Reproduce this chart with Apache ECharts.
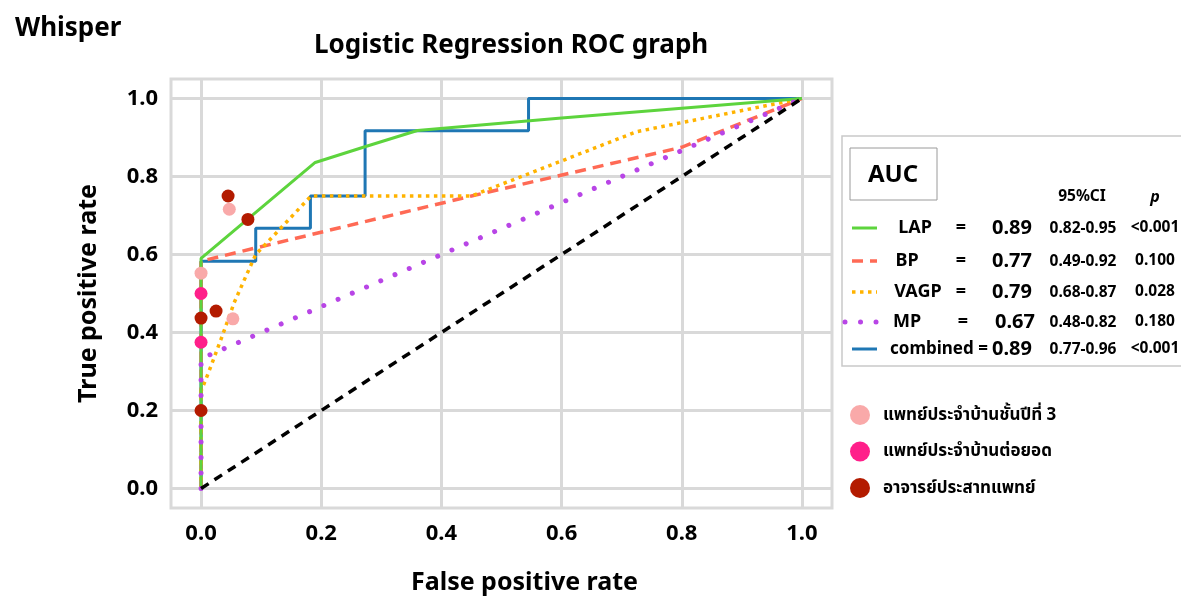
<!DOCTYPE html>
<html>
<head>
<meta charset="utf-8">
<script src="https://cdn.jsdelivr.net/npm/echarts@6/dist/echarts.min.js"></script>
<style>
  html, body { margin: 0; padding: 0; background: #fff; }
  #chart { width: 1181px; height: 600px; }
</style>
</head>
<body>
<div id="chart"></div>
<script>
// ROC curves: [false positive rate, true positive rate]
const lapCurve = [[0, 0], [0, 0.59], [0.19, 0.836], [0.27, 0.875], [0.36, 0.918], [0.6, 0.95], [1, 1]];
const bpCurve = [[0, 0], [0, 0.583], [0.45, 0.75], [0.8, 0.875], [1, 1]];
const vagpCurve = [[0, 0], [0, 0.25], [0.008, 0.28], [0.018, 0.32], [0.035, 0.39], [0.055, 0.476],
  [0.072, 0.535], [0.091, 0.6], [0.125, 0.655], [0.183, 0.75], [0.45, 0.75], [0.725, 0.915], [1, 1]];
const mpCurve = [[0, 0], [0, 0.333], [1, 1]];
const combinedCurve = [[0, 0], [0, 0.583], [0.091, 0.583], [0.091, 0.667], [0.182, 0.667], [0.182, 0.75],
  [0.273, 0.75], [0.273, 0.917], [0.545, 0.917], [0.545, 1], [1, 1]];
const chanceLine = [[0, 0], [1, 1]];

// Individual readers
const residentYear3 = [[0.047, 0.716], [0, 0.552], [0.053, 0.435]];
const fellows = [[0, 0.5], [0, 0.375]];
const neurologists = [[0.045, 0.75], [0.078, 0.69], [0.025, 0.455], [0, 0.437], [0, 0.2]];

// Axis ticks
const tickValues = [0, 0.2, 0.4, 0.6, 0.8, 1.0];

// AUC table
const aucNames = ['LAP', 'BP', 'VAGP', 'MP', 'combined'];
const aucValues = ['0.89', '0.77', '0.79', '0.67', '0.89'];
const aucCI = ['0.82-0.95', '0.49-0.92', '0.68-0.87', '0.48-0.82', '0.77-0.96'];
const aucP = ['<0.001', '0.100', '0.028', '0.180', '<0.001'];

const readerNames = ['แพทย์ประจำบ้านชั้นปีที่ 3', 'แพทย์ประจำบ้านต่อยอด', 'อาจารย์ประสาทแพทย์'];

const FONT = '"Noto Sans", "Noto Sans Thai", "Noto Sans CJK SC", sans-serif';

const curveStyles = [
  { color: '#5dd43d', width: 3, type: 'solid', cap: 'butt' },
  { color: '#ff6a55', width: 3.5, type: [11, 7], cap: 'butt' },
  { color: '#ffb300', width: 3.5, type: [3.5, 4.5], cap: 'butt' },
  { color: '#b845e6', width: 5, type: [0.01, 15.5], cap: 'round' },
  { color: '#1f77b4', width: 3, type: 'solid', cap: 'butt' }
];
const curves = [lapCurve, bpCurve, vagpCurve, mpCurve, combinedCurve];
const readerColors = ['#f9a9a9', '#ff1f8a', '#b31b00'];
const readerData = [residentYear3, fellows, neurologists];

const chart = echarts.init(document.getElementById('chart'), null, { renderer: 'canvas' });

function lineSeries(name, data, st) {
  return {
    name: name, type: 'line', data: data, showSymbol: false, symbol: 'none',
    silent: true, clip: false, animation: false,
    lineStyle: { color: st.color, width: st.width, type: st.type, cap: st.cap }
  };
}

// drawing order: combined, BP, VAGP, LAP, MP, then the chance diagonal
const series = [];
[4, 1, 2, 0, 3].forEach(i => series.push(lineSeries(aucNames[i], curves[i], curveStyles[i])));
series.push(lineSeries('chance', chanceLine, { color: '#000', width: 3.5, type: [9, 7], cap: 'butt' }));
readerNames.forEach((n, i) => series.push({
  name: n, type: 'scatter', data: readerData[i], symbol: 'circle', symbolSize: 13,
  itemStyle: { color: readerColors[i], opacity: 1 }, z: 5, animation: false
}));

// AUC table drawn at the right of the plot
const table = [];
table.push({ type: 'rect', shape: { x: 842, y: 136, width: 360, height: 230 },
  style: { fill: '#fff', stroke: '#c9c9c9', lineWidth: 1.5 } });
table.push({ type: 'rect', shape: { x: 850, y: 148, width: 87, height: 52 },
  style: { fill: '#fff', stroke: '#9a9a9a', lineWidth: 1 } });
table.push({ type: 'text', x: 893, y: 175, style: { text: 'AUC', font: 'bold 24px ' + FONT,
  fill: '#000', align: 'center', verticalAlign: 'middle' } });
table.push({ type: 'text', x: 1082, y: 197, style: { text: '95%CI', font: 'bold 15.5px ' + FONT,
  fill: '#000', align: 'center', verticalAlign: 'middle' } });
table.push({ type: 'text', x: 1155, y: 197, style: { text: 'p', font: 'italic bold 16px ' + FONT,
  fill: '#000', align: 'center', verticalAlign: 'middle' } });
const rowY = [228, 261, 292, 322, 349];
const nameX = [915, 907, 918, 907, 890];
aucNames.forEach((n, i) => {
  const st = curveStyles[i];
  const y = rowY[i];
  table.push({ type: 'line', shape: { x1: i === 3 ? 845 : 852, y1: y, x2: 877, y2: y },
    style: { stroke: st.color, lineWidth: st.width, lineDash: st.type === 'solid' ? null : st.type, lineCap: st.cap } });
  if (i === 4) {
    table.push({ type: 'text', x: nameX[i], y: y, style: { text: n + ' =', font: 'bold 17px ' + FONT,
      fill: '#000', align: 'left', verticalAlign: 'middle' } });
  } else {
    table.push({ type: 'text', x: nameX[i], y: y, style: { text: n, font: 'bold 18px ' + FONT,
      fill: '#000', align: 'center', verticalAlign: 'middle' } });
    table.push({ type: 'text', x: i === 3 ? 963 : 961, y: y, style: { text: '=', font: 'bold 18px ' + FONT,
      fill: '#000', align: 'center', verticalAlign: 'middle' } });
  }
  table.push({ type: 'text', x: i === 3 ? 1015 : 1012, y: y, style: { text: aucValues[i], font: 'bold 20px ' + FONT,
    fill: '#000', align: 'center', verticalAlign: 'middle' } });
  table.push({ type: 'text', x: 1083, y: y + 1, style: { text: aucCI[i], font: 'bold 15.5px ' + FONT,
    fill: '#000', align: 'center', verticalAlign: 'middle' } });
  table.push({ type: 'text', x: 1155, y: y, style: { text: aucP[i], font: 'bold 15.5px ' + FONT,
    fill: '#000', align: 'center', verticalAlign: 'middle' } });
});

const axisCommon = {
  type: 'value', min: -0.05, max: 1.05,
  axisLine: { show: false },
  axisTick: { show: false, customValues: tickValues },
  axisLabel: { customValues: tickValues, formatter: v => v.toFixed(1),
    color: '#000', fontWeight: 'bold', fontSize: 22, fontFamily: FONT },
  splitLine: { show: true, lineStyle: { color: '#d9d9d9', width: 3 } },
  nameLocation: 'middle',
  nameTextStyle: { color: '#000', fontWeight: 'bold', fontSize: 25, fontFamily: FONT }
};

chart.setOption({
  animation: false,
  backgroundColor: '#fff',
  title: [
    { text: 'Whisper', left: 10, top: 11,
      textStyle: { fontFamily: FONT, fontWeight: 'bold', fontSize: 26, color: '#000' } },
    { text: 'Logistic Regression ROC graph', left: 309, top: 28,
      textStyle: { fontFamily: FONT, fontWeight: 'bold', fontSize: 26, color: '#000' } }
  ],
  grid: { left: 171, top: 79, width: 661, height: 429, show: true,
    borderColor: '#d9d9d9', borderWidth: 3, backgroundColor: '#fff' },
  xAxis: Object.assign({}, axisCommon, {
    name: 'False positive rate', nameGap: 62,
    axisLabel: Object.assign({}, axisCommon.axisLabel, { margin: 15 }),
    nameTextStyle: Object.assign({}, axisCommon.nameTextStyle, { padding: [0, 0, 0, 46] })
  }),
  yAxis: Object.assign({}, axisCommon, {
    name: 'True positive rate', nameGap: 70,
    axisLabel: Object.assign({}, axisCommon.axisLabel, { margin: 13 })
  }),
  legend: {
    data: readerNames, orient: 'vertical', left: 845, top: 400,
    icon: 'circle', itemWidth: 20, itemHeight: 20, itemGap: 16.5,
    selectedMode: false,
    textStyle: { fontFamily: FONT, fontWeight: 'bold', fontSize: 17, color: '#000', padding: [0, 0, 0, 8] }
  },
  graphic: table,
  series: series
});
</script>
</body>
</html>
